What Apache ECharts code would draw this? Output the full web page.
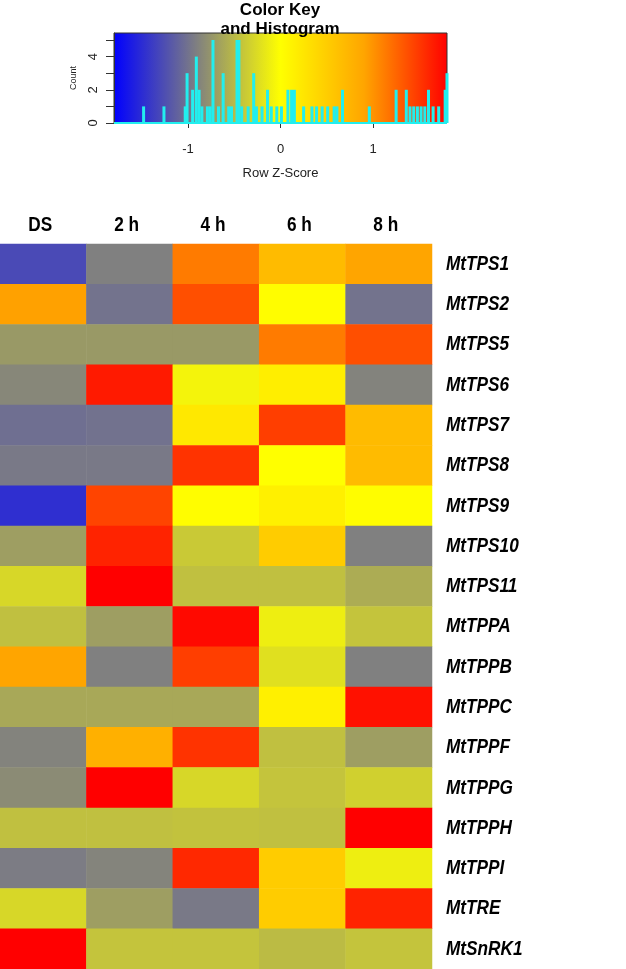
<!DOCTYPE html>
<html>
<head>
<meta charset="utf-8">
<script src="https://cdn.jsdelivr.net/npm/echarts@6/dist/echarts.min.js"></script>
<style>
html,body{margin:0;padding:0;background:#fff;}
#chart{width:626px;height:969px;}
</style>
</head>
<body>
<div id="chart"></div>
<script>
// ---- data ----
const columns = ['DS', '2 h', '4 h', '6 h', '8 h'];
const genes = ['MtTPS1','MtTPS2','MtTPS5','MtTPS6','MtTPS7','MtTPS8','MtTPS9','MtTPS10','MtTPS11',
               'MtTPPA','MtTPPB','MtTPPC','MtTPPF','MtTPPG','MtTPPH','MtTPPI','MtTRE','MtSnRK1'];
// row z-scores, one array per gene (DS, 2 h, 4 h, 6 h, 8 h)
const zMtTPS1  = [-1.28, -0.90,  1.13,  0.68,  0.90];
const zMtTPS2  = [ 0.92, -0.99,  1.37,  0.02, -0.99];
const zMtTPS5  = [-0.72, -0.72, -0.72,  1.13,  1.37];
const zMtTPS6  = [-0.85,  1.66, -0.08,  0.17, -0.88];
const zMtTPS7  = [-1.02, -1.00,  0.23,  1.46,  0.68];
const zMtTPS8  = [-0.95, -0.95,  1.52,  0.00,  0.68];
const zMtTPS9  = [-1.47,  1.43,  0.02,  0.15,  0.02];
const zMtTPS10 = [-0.69,  1.61, -0.38,  0.51, -0.90];
const zMtTPS11 = [-0.28,  1.80, -0.45, -0.45, -0.59];
const zMtTPPA  = [-0.45, -0.69,  1.75, -0.12, -0.42];
const zMtTPPB  = [ 0.90, -0.90,  1.46, -0.22, -0.90];
const zMtTPPC  = [-0.62, -0.62, -0.62,  0.15,  1.71];
const zMtTPPF  = [-0.88,  0.79,  1.52, -0.45, -0.69];
const zMtTPPG  = [-0.82,  1.80, -0.28, -0.42, -0.33];
const zMtTPPH  = [-0.45, -0.45, -0.43, -0.45,  1.80];
const zMtTPPI  = [-0.93, -0.87,  1.58,  0.51, -0.12];
const zMtTRE   = [-0.28, -0.69, -0.95,  0.51,  1.61];
const zMtSnRK1 = [ 1.80, -0.42, -0.42, -0.48, -0.42];
const rows = [zMtTPS1,zMtTPS2,zMtTPS5,zMtTPS6,zMtTPS7,zMtTPS8,zMtTPS9,zMtTPS10,zMtTPS11,
              zMtTPPA,zMtTPPB,zMtTPPC,zMtTPPF,zMtTPPG,zMtTPPH,zMtTPPI,zMtTRE,zMtSnRK1];

// colour key histogram (bin position in z-score, count)
const histZ = [-1.48,-1.26,-1.03,-1.01,-0.95,-0.91,-0.88,-0.85,-0.79,-0.76,-0.73,-0.67,-0.62,-0.56,-0.53,
               -0.47,-0.45,-0.42,-0.35,-0.29,-0.26,-0.20,-0.14,-0.10,-0.04,0.01,0.08,0.12,0.15,0.25,
               0.34,0.39,0.45,0.51,0.58,0.61,0.67,0.96,1.25,1.36,1.40,1.44,1.48,1.52,1.56,1.60,1.65,
               1.71,1.78,1.80];
const histCount = [1,1,1,3,2,4,2,1,1,1,5,1,3,1,1,
                   5,5,1,1,3,1,1,2,1,1,1,2,2,2,1,
                   1,1,1,1,1,1,2,1,2,2,1,1,1,1,1,2,1,
                   1,2,3];
const keyTicks = [-1, 0, 1];
const countTicks = [0, 1, 2, 3, 4, 5];
const countLabels = [0, 2, 4];
const zMin = -1.8, zMax = 1.8;
const colorStops = ['#0000FF', '#808080', '#FFFF00', '#FFA500', '#FF0000'];

// ---- build ----
const heatData = [];
rows.forEach((r, yi) => r.forEach((v, xi) => heatData.push([xi, yi, v])));
const histData = histZ.map((z, i) => [z, histCount[i]]);

const sans = "'Liberation Sans', Arial, sans-serif";
const heatGrid = {left: 0, top: 244, width: 432, height: 725};

const chart = echarts.init(document.getElementById('chart'), null, {renderer: 'canvas'});
const gradient = new echarts.graphic.LinearGradient(0, 0, 1, 0,
  colorStops.map((c, i) => ({offset: i / (colorStops.length - 1), color: c})));

chart.setOption({
  animation: false,
  backgroundColor: '#fff',
  title: {
    text: 'Color Key\nand Histogram',
    left: 280, top: 1, padding: 0, textAlign: 'center',
    textStyle: {fontSize: 17, fontWeight: 'bold', lineHeight: 19, color: '#000', fontFamily: sans}
  },
  grid: [
    {left: 114, top: 33, width: 333, height: 90, show: true, backgroundColor: gradient,
     borderColor: '#333', borderWidth: 1},
    heatGrid
  ],
  visualMap: {
    type: 'continuous', show: false, min: zMin, max: zMax, seriesIndex: 0, dimension: 2,
    inRange: {color: colorStops}
  },
  xAxis: [
    {gridIndex: 0, type: 'value', min: zMin, max: zMax,
     splitLine: {show: false}, axisLine: {show: false, onZero: false},
     axisTick: {show: true, customValues: keyTicks, length: 5, lineStyle: {color: '#333'}},
     axisLabel: {customValues: keyTicks, fontSize: 13, margin: 20, color: '#222', fontFamily: sans},
     name: 'Row Z-Score', nameLocation: 'middle', nameGap: 44,
     nameTextStyle: {fontSize: 13, color: '#222', fontFamily: sans}},
    {gridIndex: 1, type: 'category', data: columns, position: 'top',
     axisLine: {show: false}, axisTick: {show: false}, splitLine: {show: false},
     axisLabel: {show: false}}
  ],
  yAxis: [
    {gridIndex: 0, type: 'value', min: 0, max: 5.42,
     splitLine: {show: false},
     axisLine: {show: true, onZero: false, lineStyle: {color: '#333'}},
     axisTick: {show: true, customValues: countTicks, length: 8, lineStyle: {color: '#333'}},
     axisLabel: {customValues: countLabels, rotate: 90, margin: 14, fontSize: 13, color: '#222', fontFamily: sans},
     name: 'Count', nameLocation: 'middle', nameRotate: 90, nameGap: 36,
     nameTextStyle: {fontSize: 9, color: '#222', fontFamily: sans}},
    {gridIndex: 1, type: 'category', data: genes, inverse: true, position: 'right',
     axisLine: {show: false}, axisTick: {show: false}, splitLine: {show: false},
     axisLabel: {show: false}}
  ],
  series: [
    {type: 'heatmap', xAxisIndex: 1, yAxisIndex: 1, data: heatData,
     itemStyle: {borderWidth: 0}, emphasis: {disabled: true}},
    {type: 'bar', xAxisIndex: 0, yAxisIndex: 0, data: histData, barWidth: 3,
     itemStyle: {color: '#22eeee'}, emphasis: {disabled: true},
     markLine: {silent: true, symbol: 'none', label: {show: false},
                lineStyle: {color: '#22eeee', width: 2, type: 'solid'},
                data: [{yAxis: 0}]}}
  ]
});

// Narrow (Arial Narrow-like) labels: Liberation Sans scaled horizontally,
// positioned through the heatmap grid's own category scales.
const narrowScale = 0.82;
const labelEls = [];
const labelX = heatGrid.left + heatGrid.width + 14;
genes.forEach(g => {
  const p = chart.convertToPixel({gridIndex: 1}, [columns[0], g]);
  labelEls.push({
    type: 'text', x: labelX, y: p[1], scaleX: narrowScale, silent: true,
    style: {text: g, font: "italic bold 21px 'Liberation Sans', Arial, sans-serif", fill: '#000',
            align: 'left', verticalAlign: 'middle', textAlign: 'left', textVerticalAlign: 'middle'}
  });
});
const headerY = heatGrid.top - 19;
columns.forEach(c => {
  const p = chart.convertToPixel({gridIndex: 1}, [c, genes[0]]);
  labelEls.push({
    type: 'text', x: p[0] - 3, y: headerY, scaleX: narrowScale, silent: true,
    style: {text: c, font: "bold 21px 'Liberation Sans', Arial, sans-serif", fill: '#000',
            align: 'center', verticalAlign: 'middle', textAlign: 'center', textVerticalAlign: 'middle'}
  });
});
chart.setOption({graphic: {elements: labelEls}});
</script>
</body>
</html>
